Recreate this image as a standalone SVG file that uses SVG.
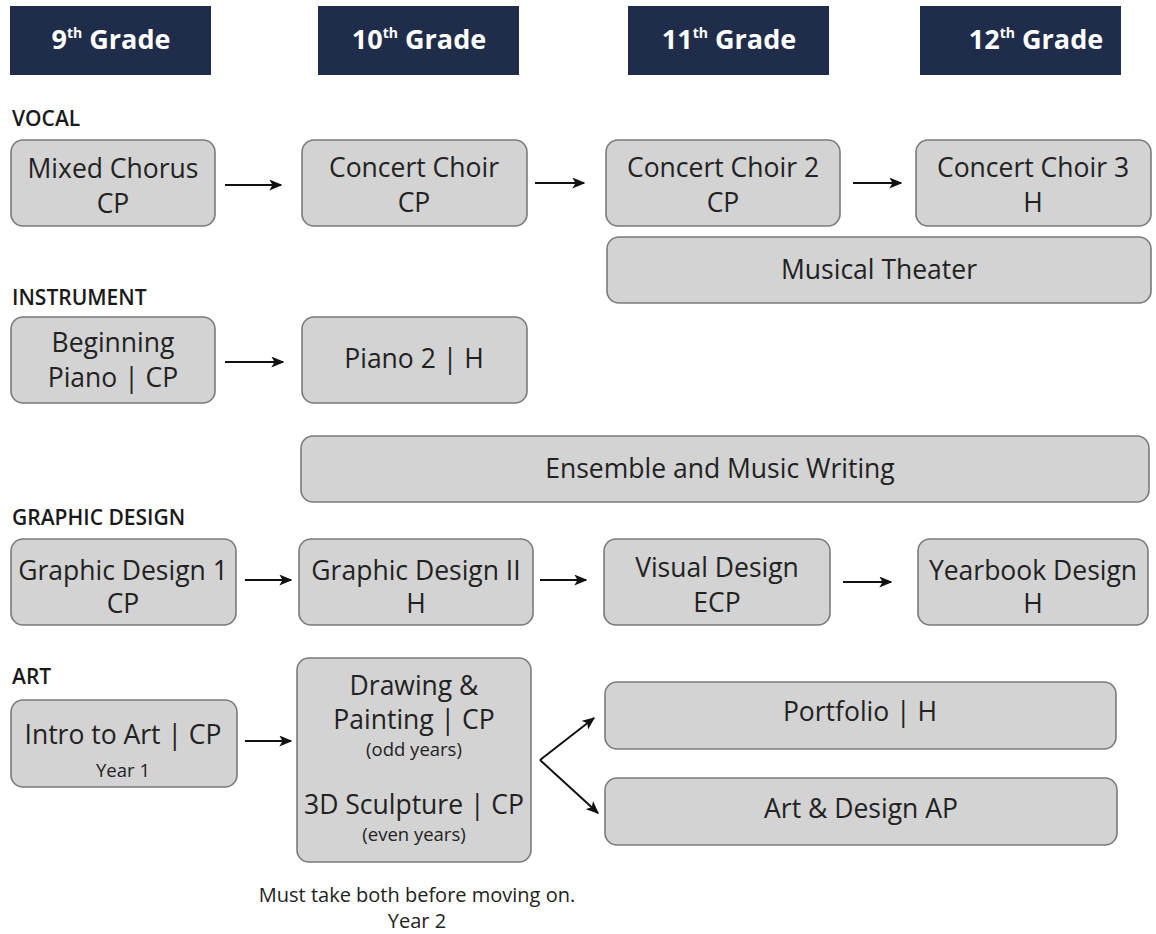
<svg xmlns="http://www.w3.org/2000/svg" width="1156" height="934" viewBox="0 0 1156 934">
<style>
.hdr{fill:#1f2c4a}
.ht{fill:#fff;font-family:"Open Sans","Noto Sans",sans-serif;font-weight:700;font-size:27px;text-anchor:middle}
.sup{font-size:14px}
.sec{fill:#1a1a1a;font-family:"Open Sans","Noto Sans",sans-serif;font-weight:600;font-size:21px}
.box{fill:#d3d3d3;stroke:#7a7a7a;stroke-width:1.6}
.t{fill:#222;font-family:"Open Sans","Noto Sans",sans-serif;font-size:26.5px;text-anchor:middle}
.s{fill:#222;font-family:"Open Sans","Noto Sans",sans-serif;font-size:18.5px;text-anchor:middle}
.note{fill:#222;font-family:"Open Sans","Noto Sans",sans-serif;font-size:20px;text-anchor:middle}
.c{stroke:#111;stroke-width:2;fill:none;marker-end:url(#ah)}
</style>
<defs>
<marker id="ah" viewBox="0 0 10 10" refX="9" refY="5" markerWidth="13" markerHeight="11" markerUnits="userSpaceOnUse" orient="auto" preserveAspectRatio="none">
<path d="M0,0 L10,5 L0,10 L2.5,5 Z" fill="#111"/>
</marker>
</defs>
<rect width="1156" height="934" fill="#fff"/>

<g id="h9"><rect class="hdr" x="10" y="6" width="201" height="69"/><text class="ht" x="111" y="49">9<tspan class="sup" dy="-11">th</tspan><tspan dy="11"> Grade</tspan></text></g>
<g id="h10"><rect class="hdr" x="318" y="6" width="201" height="69"/><text class="ht" x="419" y="49">10<tspan class="sup" dy="-11">th</tspan><tspan dy="11"> Grade</tspan></text></g>
<g id="h11"><rect class="hdr" x="628" y="6" width="201" height="69"/><text class="ht" x="729" y="49">11<tspan class="sup" dy="-11">th</tspan><tspan dy="11"> Grade</tspan></text></g>
<g id="h12"><rect class="hdr" x="920" y="6" width="201" height="69"/><text class="ht" x="1036" y="49">12<tspan class="sup" dy="-11">th</tspan><tspan dy="11"> Grade</tspan></text></g>

<text class="sec" x="12" y="126">VOCAL</text>
<text class="sec" x="12" y="305">INSTRUMENT</text>
<text class="sec" x="12" y="525">GRAPHIC DESIGN</text>
<text class="sec" x="12" y="684">ART</text>

<g id="mixed"><rect class="box" x="11" y="140" width="204" height="86" rx="12"/><text class="t" x="113" y="178">Mixed Chorus</text><text class="t" x="113" y="213">CP</text></g>
<g id="cc1"><rect class="box" x="302" y="140" width="225" height="86" rx="12"/><text class="t" x="414" y="177">Concert Choir</text><text class="t" x="414" y="212">CP</text></g>
<g id="cc2"><rect class="box" x="606" y="140" width="234" height="86" rx="12"/><text class="t" x="723" y="177">Concert Choir 2</text><text class="t" x="723" y="212">CP</text></g>
<g id="cc3"><rect class="box" x="916" y="140" width="235" height="86" rx="12"/><text class="t" x="1033" y="177">Concert Choir 3</text><text class="t" x="1033" y="212">H</text></g>
<g id="mt"><rect class="box" x="607" y="237" width="544" height="66" rx="12"/><text class="t" x="879" y="279">Musical Theater</text></g>

<g id="bp"><rect class="box" x="11" y="317" width="204" height="86" rx="12"/><text class="t" x="113" y="352">Beginning</text><text class="t" x="113" y="387">Piano | CP</text></g>
<g id="p2"><rect class="box" x="302" y="317" width="225" height="86" rx="12"/><text class="t" x="414" y="368">Piano 2 | H</text></g>
<g id="emw"><rect class="box" x="301" y="436" width="848" height="66" rx="12"/><text class="t" x="720" y="478">Ensemble and Music Writing</text></g>

<g id="gd1"><rect class="box" x="11" y="539" width="225" height="86" rx="12"/><text class="t" x="123" y="580">Graphic Design 1</text><text class="t" x="123" y="613">CP</text></g>
<g id="gd2"><rect class="box" x="299" y="539" width="234" height="86" rx="12"/><text class="t" x="416" y="580">Graphic Design II</text><text class="t" x="416" y="613">H</text></g>
<g id="vd"><rect class="box" x="604" y="539" width="226" height="86" rx="12"/><text class="t" x="717" y="577">Visual Design</text><text class="t" x="717" y="612">ECP</text></g>
<g id="yb"><rect class="box" x="918" y="539" width="230" height="86" rx="12"/><text class="t" x="1033" y="580">Yearbook Design</text><text class="t" x="1033" y="613">H</text></g>

<g id="ia"><rect class="box" x="11" y="700" width="226" height="87" rx="12"/><text class="t" x="123" y="744">Intro to Art | CP</text><text class="s" x="123" y="777">Year 1</text></g>
<g id="dp"><rect class="box" x="297" y="658" width="234" height="204" rx="12"/><text class="t" x="414" y="695">Drawing &amp;</text><text class="t" x="414" y="729">Painting | CP</text><text class="s" x="414" y="756">(odd years)</text><text class="t" x="414" y="814">3D Sculpture | CP</text><text class="s" x="414" y="841">(even years)</text></g>
<g id="pf"><rect class="box" x="605" y="682" width="511" height="67" rx="12"/><text class="t" x="860" y="721">Portfolio | H</text></g>
<g id="ap"><rect class="box" x="605" y="778" width="512" height="67" rx="12"/><text class="t" x="861" y="818">Art &amp; Design AP</text></g>

<text class="note" x="417" y="902">Must take both before moving on.</text>
<text class="note" x="417" y="928">Year 2</text>

<g id="connectors">
<line class="c" x1="225" y1="185" x2="281" y2="185"/>
<line class="c" x1="535" y1="183" x2="584" y2="183"/>
<line class="c" x1="853" y1="183" x2="901" y2="183"/>
<line class="c" x1="225" y1="362" x2="283" y2="362"/>
<line class="c" x1="245" y1="580" x2="291" y2="580"/>
<line class="c" x1="540" y1="580" x2="586" y2="580"/>
<line class="c" x1="843" y1="582" x2="891" y2="582"/>
<line class="c" x1="245" y1="741" x2="291" y2="741"/>
<path class="c" d="M540,760 L594,718"/>
<path class="c" d="M540,760 L598,813"/>
</g>
</svg>
